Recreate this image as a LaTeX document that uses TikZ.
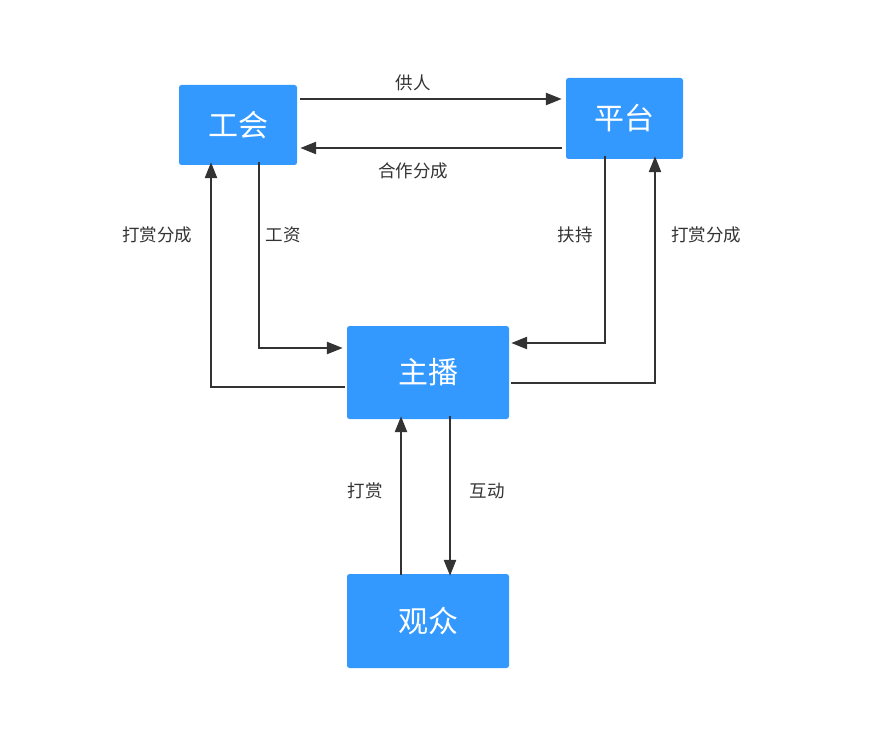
\documentclass[tikz,border=0pt]{standalone}
\usepackage{fontspec}
\setmainfont{Noto Sans CJK SC}
\usetikzlibrary{arrows.meta}
\definecolor{boxblue}{RGB}{51,153,255}
\definecolor{linegray}{RGB}{51,51,51}
\begin{document}
\begin{tikzpicture}[x=1pt,y=-1pt,
  box/.style={draw=none,fill=boxblue,rounded corners=2.5pt,text=white,font=\fontsize{30}{32}\selectfont,inner sep=0pt},
  conn/.style={draw=linegray,line width=2.4pt,-{Triangle[length=16pt,width=12pt]}},
  lbl/.style={font=\fontsize{17.5}{19}\selectfont,text=linegray}]
\useasboundingbox (0,0) rectangle (877,743);
\node[box,minimum width=118pt,minimum height=80pt] (gh) at (238,125) {工会};
\node[box,minimum width=117pt,minimum height=81pt] (pt) at (624.5,118.5) {平台};
\node[box,minimum width=162pt,minimum height=93pt] (zb) at (428,372.5) {主播};
\node[box,minimum width=162pt,minimum height=94pt] (gz) at (428,621) {观众};

\coordinate (ghA) at ([xshift=3pt]gh.east |- 0,99);
\coordinate (ptA) at ([xshift=-4pt]pt.west |- 0,99);
\draw[conn] (ghA) -- (ptA);
\node[lbl] (lgr) at (413,83) {供人};
\coordinate (ptB) at ([xshift=-4pt]pt.west |- 0,148);
\coordinate (ghB) at ([xshift=3pt]gh.east |- 0,148);
\draw[conn] (ptB) -- (ghB);
\node[lbl] (lhz) at (413,171) {合作分成};

\coordinate (ghC) at ([yshift=3pt]gh.south -| 259,0);
\coordinate (zbC) at ([xshift=-4pt]zb.west |- 0,348);
\draw[conn] (ghC) |- (zbC);
\node[lbl] (lgz) at (283,235) {工资};

\coordinate (zbD) at ([xshift=-2pt]zb.west |- 0,387);
\coordinate (ghD) at ([yshift=3pt]gh.south -| 211,0);
\draw[conn] (zbD) -| (ghD);
\node[lbl] (ldl) at (157,235) {打赏分成};

\coordinate (ptE) at ([yshift=3pt]pt.south -| 605,0);
\coordinate (zbE) at ([xshift=2pt]zb.east |- 0,343);
\draw[conn] (ptE) |- (zbE);
\node[lbl] (lfc) at (575,235) {扶持};

\coordinate (zbF) at ([xshift=2pt]zb.east |- 0,383);
\coordinate (ptF) at ([yshift=3pt]pt.south -| 655,0);
\draw[conn] (zbF) -| (ptF);
\node[lbl] (ldr) at (706,235) {打赏分成};

\coordinate (gzG) at ([yshift=-1pt]gz.north -| 401,0);
\coordinate (zbG) at ([yshift=3pt]zb.south -| 401,0);
\draw[conn] (gzG) -- (zbG);
\node[lbl] (lds) at (365,491) {打赏};

\coordinate (zbH) at ([yshift=3pt]zb.south -| 450,0);
\coordinate (gzH) at ([yshift=-2pt]gz.north -| 450,0);
\draw[conn] (zbH) -- (gzH);
\node[lbl] (lhd) at (487,491) {互动};
\end{tikzpicture}
\end{document}
